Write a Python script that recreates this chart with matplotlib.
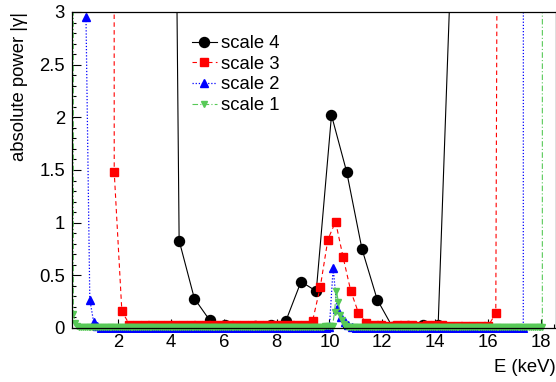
import numpy as np
import matplotlib
matplotlib.use("Agg")
import matplotlib.pyplot as plt
from matplotlib.transforms import Bbox, TransformedBbox
from matplotlib.ticker import MultipleLocator

plt.rcParams['font.family'] = ['Liberation Sans', 'DejaVu Sans']

# ---- data (energy grids given by first bin and bin width, keV) ----
scale4_e0, scale4_de = 3.73, 0.577
scale4_power = [16.5, 0.83, 0.28, 0.075, 0.03, 0.01, 0.02, 0.03, 0.065, 0.44,
                0.35, 2.02, 1.48, 0.75, 0.27, 0.01, 0.02, 0.03, 0.03, 4.1]

scale3_e0, scale3_de = 1.56, 0.289
scale3_power = [200, 1.48, 0.16,
                0.032, 0.03, 0.031, 0.03, 0.029, 0.03, 0.031, 0.029, 0.03, 0.028,
                0.027, 0.026, 0.025, 0.026, 0.024, 0.025, 0.026, 0.025, 0.024, 0.025,
                0.026, 0.025, 0.024, 0.025,
                0.07, 0.39, 0.84, 1.01, 0.67, 0.35, 0.145, 0.05,
                0.025, 0.024, 0.023, 0.024, 0.025, 0.024, 0.023, 0.024, 0.025, 0.024,
                0.023, 0.022, 0.023, 0.022, 0.021, 0.02,
                0.14, 20.6]

scale2_e0, scale2_de = 0.636, 0.144
scale2_power = [150, 2.95, 0.27, 0.06, 0.015,
                0.004, 0.003, 0.002, 0.002, 0.001, 0.002, 0.001, 0.001, 0.002, 0.001,
                0.001, 0.002, 0.001, 0.001, 0.001, 0.002, 0.001, 0.001, 0.001, 0.002,
                0.001, 0.001, 0.002, 0.001, 0.001, 0.001, 0.002, 0.001, 0.001, 0.001,
                0.002, 0.001, 0.001, 0.001, 0.002, 0.001, 0.001, 0.001, 0.002, 0.001,
                0.001, 0.001, 0.002, 0.001, 0.001, 0.001, 0.002, 0.001, 0.001, 0.001,
                0.002, 0.001, 0.001, 0.002, 0.001, 0.002, 0.003, 0.002, 0.003, 0.004,
                0.005, 0.57, 0.18, 0.10, 0.06, 0.03, 0.01,
                0.004, 0.003, 0.002, 0.002, 0.001, 0.002, 0.001, 0.001, 0.002, 0.001,
                0.001, 0.002, 0.001, 0.001, 0.001, 0.002, 0.001, 0.001, 0.001, 0.002,
                0.001, 0.001, 0.002, 0.001, 0.001, 0.001, 0.002, 0.001, 0.001, 0.001,
                0.002, 0.001, 0.001, 0.001, 0.002, 0.001, 0.001, 0.002, 0.001, 0.001,
                0.001, 0.002, 0.001, 0.001, 0.002,
                150]

scale1_e0, scale1_de = 0.228, 0.0722
scale1_power = [200, 0.13, 0.05, 0.02,
                # 133 low bins before the 10 keV line
                0.012, 0.011, 0.010, 0.011, 0.010, 0.009, 0.010, 0.011, 0.010, 0.009,
                0.010, 0.010, 0.011, 0.010, 0.009, 0.010, 0.010, 0.011, 0.010, 0.009,
                0.010, 0.010, 0.011, 0.010, 0.009, 0.010, 0.010, 0.011, 0.010, 0.009,
                0.010, 0.010, 0.011, 0.010, 0.009, 0.010, 0.010, 0.011, 0.010, 0.009,
                0.010, 0.010, 0.011, 0.010, 0.009, 0.010, 0.010, 0.011, 0.010, 0.009,
                0.010, 0.010, 0.011, 0.010, 0.009, 0.010, 0.010, 0.011, 0.010, 0.009,
                0.010, 0.010, 0.011, 0.010, 0.009, 0.010, 0.010, 0.011, 0.010, 0.009,
                0.010, 0.010, 0.011, 0.010, 0.009, 0.010, 0.010, 0.011, 0.010, 0.009,
                0.010, 0.010, 0.011, 0.010, 0.009, 0.010, 0.010, 0.011, 0.010, 0.009,
                0.010, 0.010, 0.011, 0.010, 0.009, 0.010, 0.010, 0.011, 0.010, 0.009,
                0.010, 0.010, 0.011, 0.010, 0.009, 0.010, 0.010, 0.011, 0.010, 0.009,
                0.010, 0.010, 0.011, 0.010, 0.009, 0.010, 0.010, 0.011, 0.010, 0.009,
                0.010, 0.010, 0.011, 0.010, 0.011, 0.012, 0.012, 0.013, 0.014, 0.015,
                0.016, 0.017, 0.018,
                # the 10 keV line
                0.02, 0.15, 0.355, 0.25, 0.12, 0.075, 0.035, 0.015,
                # 103 low bins after the line
                0.012, 0.011, 0.010, 0.011, 0.010, 0.009, 0.010, 0.011, 0.010, 0.009,
                0.010, 0.010, 0.011, 0.010, 0.009, 0.010, 0.010, 0.011, 0.010, 0.009,
                0.010, 0.010, 0.011, 0.010, 0.009, 0.010, 0.010, 0.011, 0.010, 0.009,
                0.010, 0.010, 0.011, 0.010, 0.009, 0.010, 0.010, 0.011, 0.010, 0.009,
                0.010, 0.010, 0.011, 0.010, 0.009, 0.010, 0.010, 0.011, 0.010, 0.009,
                0.010, 0.010, 0.011, 0.010, 0.009, 0.010, 0.010, 0.011, 0.010, 0.009,
                0.010, 0.010, 0.011, 0.010, 0.009, 0.010, 0.010, 0.011, 0.010, 0.009,
                0.010, 0.010, 0.011, 0.010, 0.009, 0.010, 0.010, 0.011, 0.010, 0.009,
                0.010, 0.010, 0.011, 0.010, 0.009, 0.010, 0.010, 0.011, 0.010, 0.009,
                0.010, 0.010, 0.011, 0.010, 0.009, 0.010, 0.010, 0.011, 0.010, 0.009,
                0.010, 0.011, 0.012,
                200]

series = [
    ("scale 4", scale4_e0, scale4_de, scale4_power),
    ("scale 3", scale3_e0, scale3_de, scale3_power),
    ("scale 2", scale2_e0, scale2_de, scale2_power),
    ("scale 1", scale1_e0, scale1_de, scale1_power),
]

styles = {
    "scale 4": dict(color='black', ls='-', marker='o', ms=7.2, lw=0.8),
    "scale 3": dict(color='#ff0000', ls=(0, (4, 3)), marker='s', ms=6.3, lw=0.8),
    "scale 2": dict(color='#0000ff', ls=(0, (1, 1.5)), marker='^', ms=5.6, lw=0.9),
    "scale 1": dict(color='#57c957', ls=(0, (5, 2, 1, 2)), marker='v', ms=4.8, lw=0.8),
}

fig = plt.figure(figsize=(5.56, 3.82), dpi=100)
ax = fig.add_axes([72 / 556, 1 - 328 / 382, (555.5 - 72) / 556, (328 - 12) / 382])

clip = TransformedBbox(Bbox([[0, -0.012], [1, 1]]), ax.transAxes)
for name, e0, de, power in series:
    e = e0 + de * np.arange(len(power))
    st = styles[name]
    ln, = ax.plot(e, power, color=st['color'], ls=st['ls'], lw=st['lw'],
                  marker=st['marker'], ms=st['ms'], mec=st['color'], mfc=st['color'],
                  label=name)
    ln.set_clip_box(clip)

ax.set_xlim(0.25, 18.56)
ax.set_ylim(0, 3)
ax.xaxis.set_major_locator(MultipleLocator(2))
ax.xaxis.set_minor_locator(MultipleLocator(0.5))
ax.yaxis.set_major_locator(MultipleLocator(0.5))
ax.yaxis.set_minor_locator(MultipleLocator(0.1))
ax.set_xticks(np.arange(2, 19, 2))
ax.set_xticklabels([str(v) for v in range(2, 19, 2)])
ax.set_yticks([0, 0.5, 1, 1.5, 2, 2.5, 3])
ax.set_yticklabels(['0', '0.5', '1', '1.5', '2', '2.5', '3'])

ax.tick_params(which='both', direction='in', top=False, right=False, labelsize=13.3)
ax.tick_params(which='major', length=6.5, width=0.8)
ax.tick_params(which='minor', length=3.2, width=0.8)
ax.tick_params(axis='x', pad=4)
ax.tick_params(axis='y', pad=5)
for sp in ax.spines.values():
    sp.set_linewidth(0.9)

ax.set_xlabel('E (keV)', fontsize=13.3, loc='right', labelpad=6)
ax.set_ylabel('absolute power |γ|', fontsize=13.3, loc='top', labelpad=8)

leg = ax.legend(loc='upper left', bbox_to_anchor=(192 / 556, 1 - 35 / 382),
                bbox_transform=fig.transFigure, frameon=False, fontsize=13.3,
                handlelength=1.35, handletextpad=0.2, labelspacing=0.2,
                borderpad=0, borderaxespad=0)

fig.savefig('out.png', dpi=100)
